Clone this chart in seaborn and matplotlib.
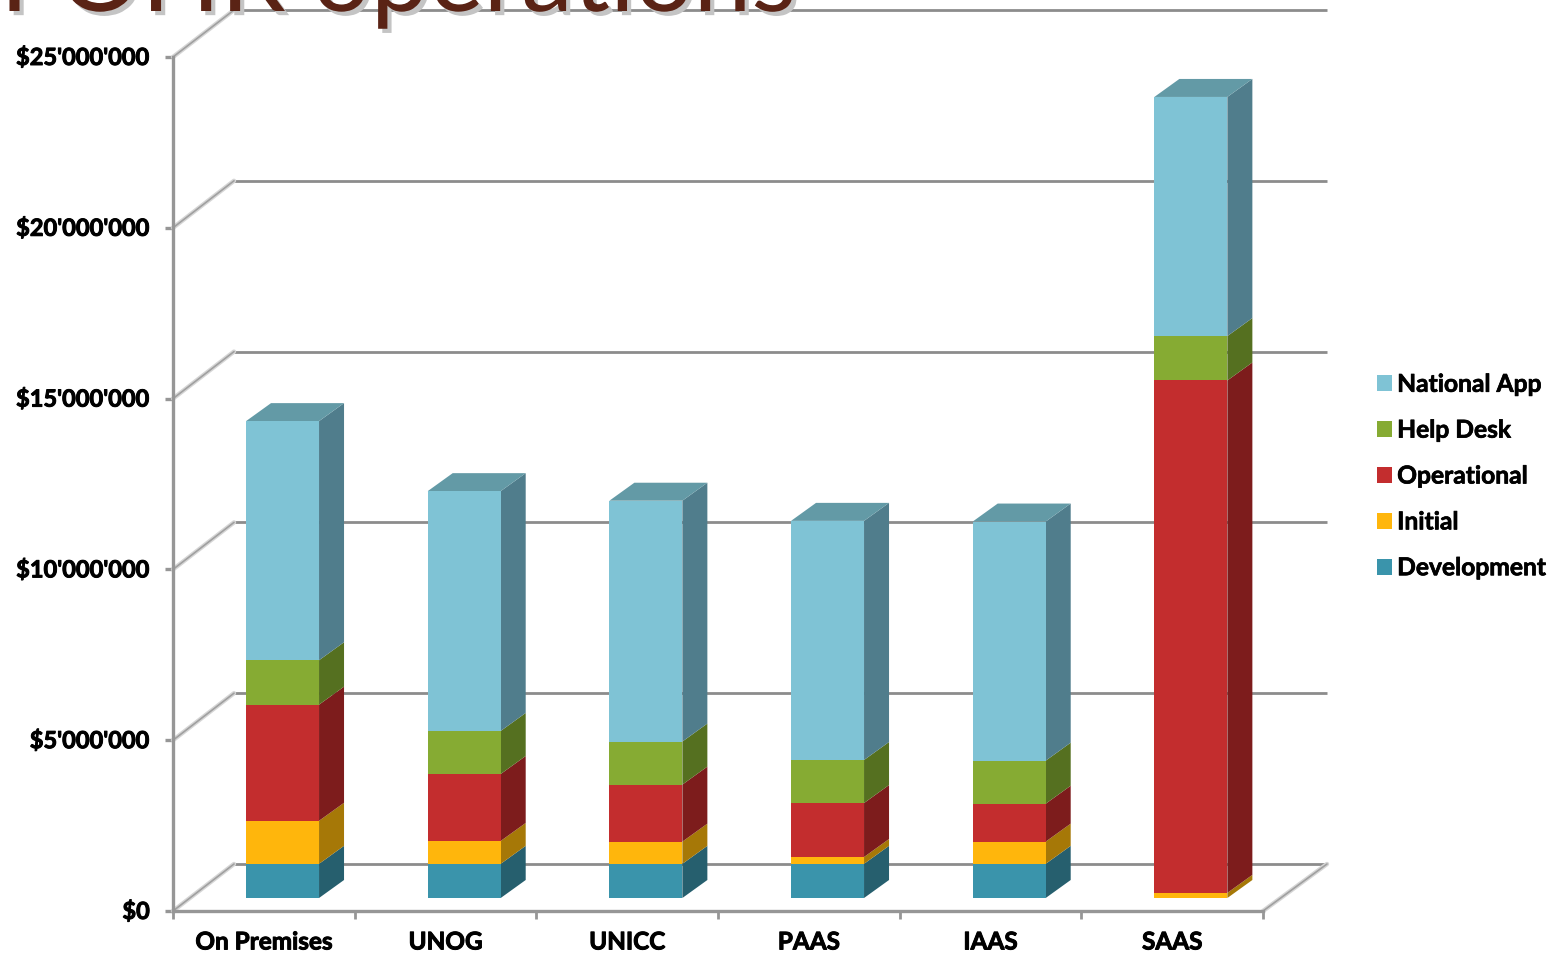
import matplotlib
matplotlib.use('Agg')
import numpy as np
import seaborn as sns
import matplotlib.pyplot as plt
import matplotlib.patheffects as pe
from matplotlib.patches import Patch, Polygon
from matplotlib.transforms import ScaledTranslation

categories = ['On Premises', 'UNOG', 'UNICC', 'PAAS', 'IAAS', 'SAAS']
development = [1.0e6, 1.0e6, 1.0e6, 1.0e6, 1.0e6, 0.0]
initial = [1.26e6, 0.67e6, 0.65e6, 0.2e6, 0.65e6, 0.15e6]
operational = [3.4e6, 1.96e6, 1.67e6, 1.58e6, 1.11e6, 15.0e6]
help_desk = [1.3e6, 1.26e6, 1.26e6, 1.26e6, 1.26e6, 1.3e6]
national_app = [7.0e6, 7.02e6, 7.05e6, 7.0e6, 7.0e6, 7.0e6]
y_ticks = [0, 5e6, 10e6, 15e6, 20e6, 25e6]
y_labels = ['$0', "$5'000'000", "$10'000'000", "$15'000'000", "$20'000'000", "$25'000'000"]

series = [
    ('Development', development, '#3A94AB', '#265F6E'),
    ('Initial', initial, '#FFB60C', '#A67807'),
    ('Operational', operational, '#C32D2E', '#7D1C1C'),
    ('Help Desk', help_desk, '#86AB33', '#557020'),
    ('National App', national_app, '#7FC3D5', '#507D8C'),
]
top_color = '#639AA6'
grid_color = '#8C8C8C'
axis_color = '#969696'

sns.set_theme(style='white')
plt.rcParams['font.family'] = ['Lato', 'DejaVu Sans']

W, H = 1566, 955
fig = plt.figure(figsize=(W / 100, H / 100), dpi=100)
ax = fig.add_axes([173 / W, (H - 911) / H, 1090 / W, 854 / H])

# size of one pixel in data units, the fake 3d depth is set from these
px_x = 6 / 1090
px_y = 25e6 / 854
wall_dx, wall_dy = 61 * px_x, 47 * px_y
bar_dx, bar_dy = 25 * px_x, 18 * px_y
shift_x, shift_y = 18.7 * px_x, 13 * px_y

bottoms = np.full(len(categories), shift_y)
for name, values, color, side in series:
    sns.barplot(x=categories, y=values, bottom=bottoms, color=color, saturation=1,
                width=73 * px_x, ax=ax, zorder=3, linewidth=0)
    for patch in ax.containers[-1]:
        patch.set_x(patch.get_x() + shift_x)
        x, y, w, h = patch.get_x(), patch.get_y(), patch.get_width(), patch.get_height()
        if h <= 0:
            continue
        ax.add_patch(Polygon([(x + w, y), (x + w + bar_dx, y + bar_dy),
                              (x + w + bar_dx, y + h + bar_dy), (x + w, y + h)],
                             closed=True, facecolor=side, edgecolor='none', zorder=2.9, clip_on=False))
    bottoms = bottoms + np.array(values)

for patch in ax.containers[-1]:
    x, y, w, h = patch.get_x(), patch.get_y(), patch.get_width(), patch.get_height()
    ax.add_patch(Polygon([(x, y + h), (x + w, y + h), (x + w + bar_dx, y + h + bar_dy),
                          (x + bar_dx, y + h + bar_dy)],
                         closed=True, facecolor=top_color, edgecolor='none', zorder=2.9, clip_on=False))

ax.set_xlim(-0.5, 5.5)
ax.set_ylim(0, 25e6)

# back wall, floor and left side lines
x0, x1 = -0.5, 5.5
for t in y_ticks:
    ax.plot([x0 + wall_dx, x1 + wall_dx + 3 * px_x], [t + wall_dy, t + wall_dy], color=grid_color,
            lw=2, clip_on=False, zorder=1, solid_capstyle='butt')
    ax.plot([x0, x0 + wall_dx], [t, t + wall_dy], color='#D6D6D6', lw=3.2, clip_on=False, zorder=1)
    ax.plot([x0, x0 + wall_dx], [t, t + wall_dy], color='#A0A0A0', lw=1.2, clip_on=False, zorder=1.1)
ax.plot([x1, x1 + wall_dx + 3 * px_x], [0, wall_dy], color='#D6D6D6', lw=3.2, clip_on=False, zorder=1)
ax.plot([x1, x1 + wall_dx + 3 * px_x], [0, wall_dy], color='#A0A0A0', lw=1.2, clip_on=False, zorder=1.1)

ax.set_yticks(y_ticks)
ax.set_yticklabels(y_labels)
ax.set_xticks(np.arange(7) - 0.5, minor=False)
ax.set_xticklabels([])
ax.set_xticks(np.arange(6), labels=categories, minor=True)
ax.tick_params(axis='x', which='major', length=6, width=2, color=axis_color, bottom=True)
ax.tick_params(axis='x', which='minor', length=0, pad=14, labelsize=17.5, labelcolor='black')
ax.tick_params(axis='y', length=6, width=2.4, color=axis_color, left=True, pad=10,
               labelsize=17, labelcolor='black')
for label in ax.get_yticklabels() + ax.get_xticklabels(minor=True):
    label.set_fontweight('bold')
    label.set_path_effects([pe.withStroke(linewidth=0.7, foreground='black')])
for label in ax.get_yticklabels():
    label.set_transform(label.get_transform() + ScaledTranslation(-1 / 100, 2 / 100, fig.dpi_scale_trans))
sns.despine(ax=ax)
ax.spines['left'].set(color=axis_color, linewidth=2.4)
ax.spines['bottom'].set(color=axis_color, linewidth=2.4)
ax.set_xlabel('')
ax.set_ylabel('')
ax.patch.set_alpha(0)

handles = [Patch(facecolor=color, edgecolor='none', label=name) for name, _, color, _ in reversed(series)]
legend = fig.legend(handles=handles, loc='center left', bbox_to_anchor=(1377 / W, 1 - 476 / H),
                    frameon=False, fontsize=17.7, handlelength=0.62, handleheight=0.62,
                    handletextpad=0.2, labelspacing=0.93, borderpad=0, borderaxespad=0,
                    labelcolor='black')
for text in legend.get_texts():
    text.set_fontweight('bold')
    text.set_path_effects([pe.withStroke(linewidth=0.5, foreground='black')])

# slide title, cut off by the top of the image
fig.text(0, 1 - 11 / H, 'FOHR operations', fontsize=74.6, color='#5A2315', ha='left', va='baseline',
         zorder=0, path_effects=[pe.withSimplePatchShadow(offset=(3, -3), shadow_rgbFace='#C4C4C4', alpha=1)])

fig.savefig('out.png', dpi=100)
